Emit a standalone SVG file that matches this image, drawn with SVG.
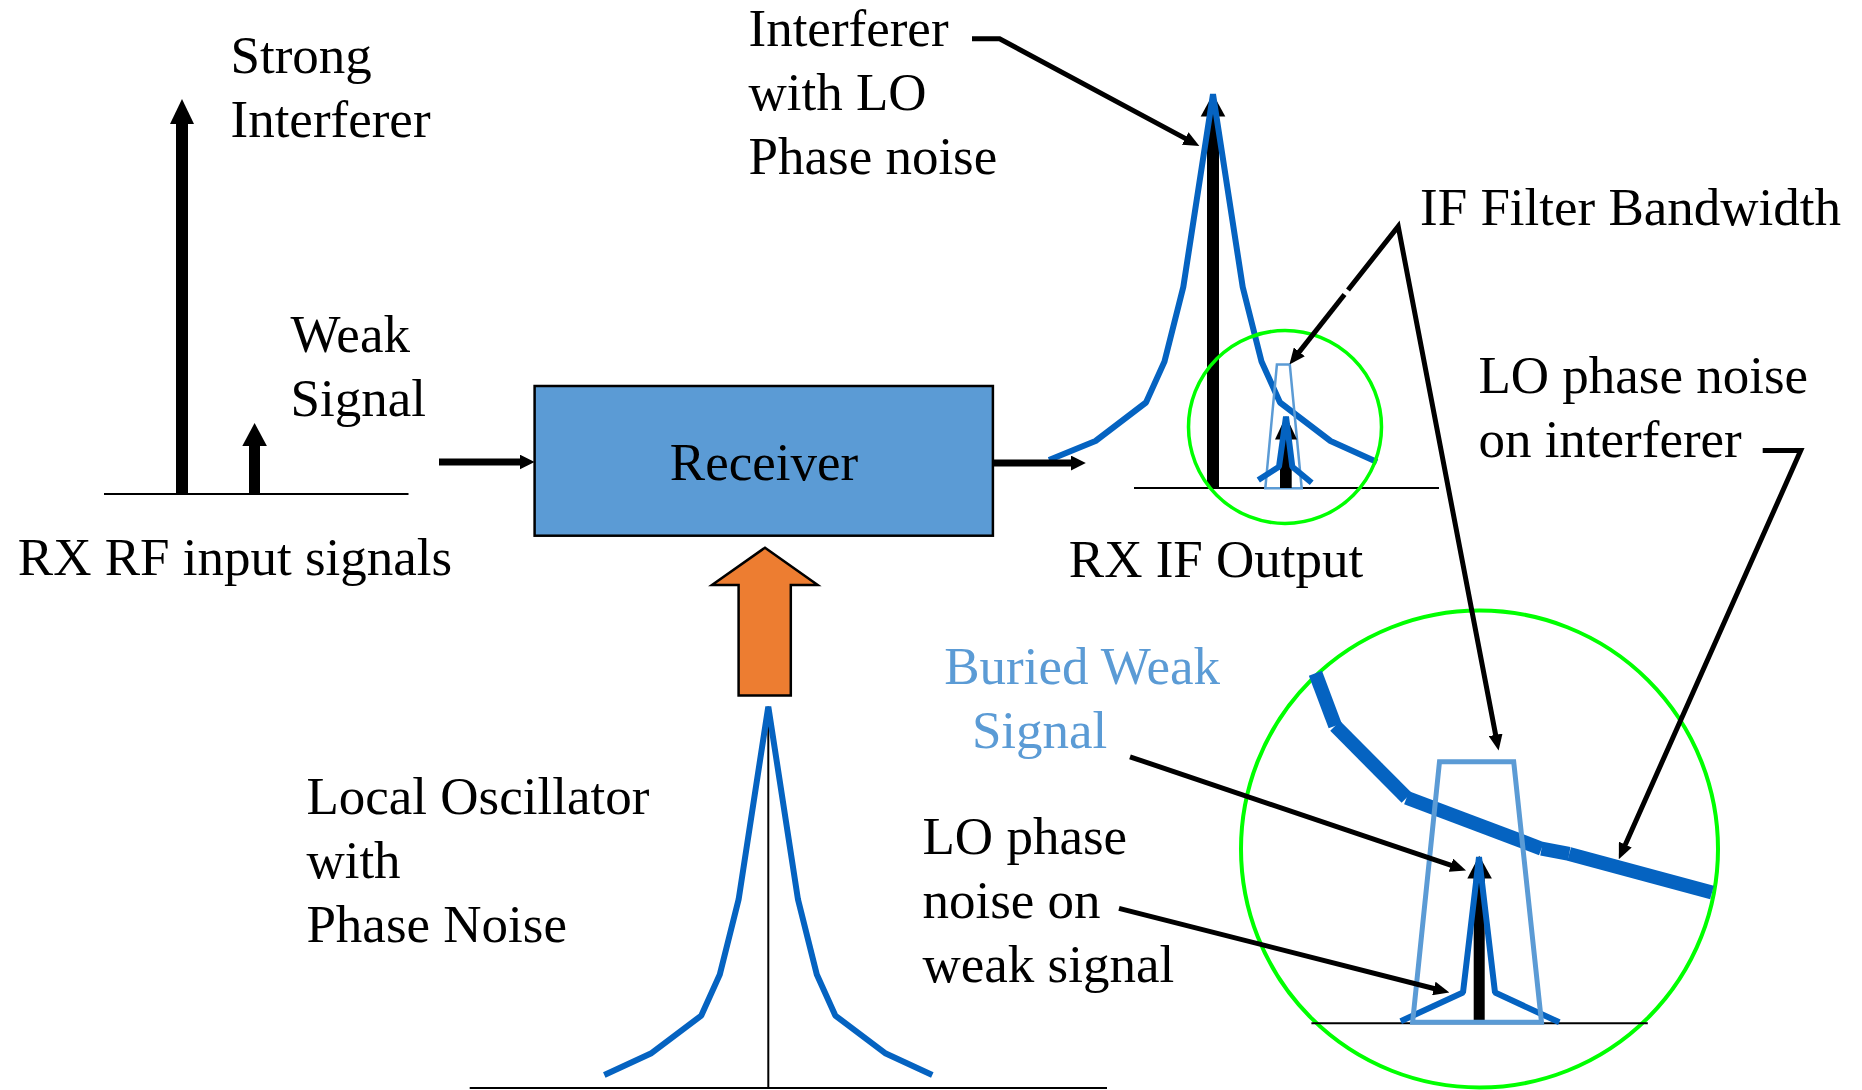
<svg xmlns="http://www.w3.org/2000/svg" width="1862" height="1090" viewBox="0 0 1862 1090">
<defs>
<style>
text{font-family:"Liberation Serif","Times New Roman",serif;font-size:53px;fill:#000}
.lb{fill:#5B9BD5}
.base{stroke:#000;stroke-width:2;fill:none}
.ld{stroke:#000;stroke-width:5;fill:none;stroke-linejoin:miter}
.io{stroke:#000;stroke-width:7;fill:none}
.pn{stroke:#0563C1;stroke-width:6;fill:none;stroke-linejoin:bevel}
.flt{stroke:#5B9BD5;fill:none}
.grn{stroke:#00FF00;fill:none}
.blk{fill:#000}
</style>
<marker id="ha" viewBox="0 0 16 14" refX="2" refY="7" markerWidth="16" markerHeight="14" markerUnits="userSpaceOnUse" orient="auto"><path d="M0,0 L16,7 L0,14 z" fill="#000"/></marker>
<marker id="hs" viewBox="0 0 15 15" refX="2" refY="7.5" markerWidth="15" markerHeight="15" markerUnits="userSpaceOnUse" orient="auto"><path d="M0,0 L15,7.5 L0,15 z" fill="#000"/></marker>
</defs>
<rect width="1862" height="1090" fill="#fff"/>

<g id="rf-spectrum">
<line class="base" x1="104" y1="494" x2="408.5" y2="494"/>
<rect class="blk" x="176" y="123" width="12" height="371"/>
<polygon class="blk" points="170,124 182,99 194,124"/>
<rect class="blk" x="249" y="445" width="11" height="49"/>
<polygon class="blk" points="242.3,446 254.6,423 266.9,446"/>
<text x="230.5" y="73">Strong</text>
<text x="230.5" y="137">Interferer</text>
<text x="290.6" y="351.5">Weak</text>
<text x="290.6" y="415.5">Signal</text>
<text x="17.8" y="575">RX RF input signals</text>
</g>

<g id="receiver">
<rect x="534.6" y="386" width="458.3" height="149.7" fill="#5B9BD5" stroke="#000" stroke-width="2.5"/>
<text x="764" y="480" text-anchor="middle">Receiver</text>
</g>

<g id="lo-arrow">
<polygon points="765,547.7 817.7,584.9 790.8,584.9 790.8,695.4 738.6,695.4 738.6,584.9 712,584.9" fill="#ED7D31" stroke="#000" stroke-width="2.5"/>
</g>

<g id="lo-spectrum">
<line class="base" x1="469.7" y1="1088" x2="1107" y2="1088"/>
<line class="base" x1="768.3" y1="706.6" x2="768.3" y2="1088"/>
<polyline class="pn" points="604.3,1075 650.8,1053.6 701.3,1015.6 719.8,974.6 738.6,899.6 768.3,706.6 798,899.6 816.8,974.6 835.3,1015.6 885.8,1053.6 932.3,1075"/>
<text x="306.4" y="813.6">Local Oscillator</text>
<text x="306.4" y="878">with</text>
<text x="306.4" y="942">Phase Noise</text>
</g>

<g id="if-spectrum">
<line class="base" x1="1134" y1="488" x2="1439" y2="488"/>
<rect class="blk" x="1207" y="115" width="12" height="373"/>
<polygon class="blk" points="1200.7,116.5 1213,94 1225.3,116.5"/>
<polyline class="pn" points="1049,460 1095.5,441 1146,402.5 1164.5,361.5 1183.3,287 1213,94.3 1242.7,287 1261.5,361.5 1280,402.5 1330.5,441 1377,462"/>
<circle class="grn" cx="1285" cy="427" r="96.5" stroke-width="3.5"/>
<polygon class="flt" stroke-width="2.5" points="1265.3,488.3 1276.9,364.6 1289.8,364.6 1301.7,488.3"/>
<rect class="blk" x="1280" y="438" width="11.7" height="50"/>
<polygon class="blk" points="1275,439.5 1286,416 1297,439.5"/>
<polyline class="pn" stroke-width="2.5" points="1258.3,480 1279,466.7 1286,416.7 1292.3,466.7 1311.7,482.7"/>
<text x="1068.8" y="577">RX IF Output</text>
</g>

<g id="inset">
<circle class="grn" cx="1479.5" cy="849" r="238.5" stroke-width="4"/>
<line class="base" stroke-width="3" x1="1311.4" y1="1023.3" x2="1647.8" y2="1023.3"/>
<rect class="blk" x="1473.7" y="877" width="11" height="146.3"/>
<polygon class="blk" points="1467.3,878.5 1479.2,855.7 1491.9,878.5"/>
<polyline class="pn" stroke-width="5.5" points="1400.7,1021.2 1463,992.5 1479,857 1495,992.5 1559.3,1022.3"/>
<g stroke="#0563C1" stroke-width="14" fill="none">
<line x1="1315.4" y1="673.3" x2="1335.2" y2="725.9"/>
<line x1="1335.2" y1="725.9" x2="1406.6" y2="797.8"/>
<line x1="1406.6" y1="797.8" x2="1541.5" y2="848.7"/>
<line x1="1541.5" y1="848.7" x2="1569.2" y2="853.9"/>
<line x1="1569.2" y1="853.9" x2="1712" y2="892.5"/>
</g>
<polygon class="flt" stroke-width="5" points="1412.6,1022.3 1439.5,761.7 1513.7,761.7 1541.5,1022.3"/>
</g>

<g id="labels">
<text x="748.5" y="46">Interferer</text>
<text x="748.5" y="110">with LO</text>
<text x="748.5" y="174">Phase noise</text>
<text x="1420" y="224.6">IF Filter Bandwidth</text>
<text x="1478.4" y="393.3">LO phase noise</text>
<text x="1478.4" y="457">on interferer</text>
<text class="lb" x="944.2" y="684">Buried Weak</text>
<text class="lb" x="971.9" y="748">Signal</text>
<text x="922.5" y="854">LO phase</text>
<text x="922.5" y="918">noise on</text>
<text x="922.5" y="982">weak signal</text>
</g>

<g id="connectors">
<line class="io" x1="439" y1="462" x2="521.6" y2="462" marker-end="url(#hs)"/>
<line class="io" x1="993" y1="463" x2="1072.8" y2="463" marker-end="url(#hs)"/>
<polyline class="ld" points="972,38.8 999.6,38.8 1187,139.4" marker-end="url(#ha)"/>
<polyline class="ld" points="1348,290 1398.2,226.4 1496,736.8" marker-end="url(#ha)"/>
<line class="ld" x1="1344.5" y1="294.5" x2="1298.1" y2="353.4" marker-end="url(#ha)"/>
<polyline class="ld" points="1762.7,450.6 1800.7,450.6 1624.5,846.4" marker-end="url(#ha)"/>
<line class="ld" x1="1130" y1="756.8" x2="1452.8" y2="865.9" marker-end="url(#ha)"/>
<line class="ld" x1="1119" y1="908.3" x2="1435.8" y2="989" marker-end="url(#ha)"/>
</g>
</svg>
